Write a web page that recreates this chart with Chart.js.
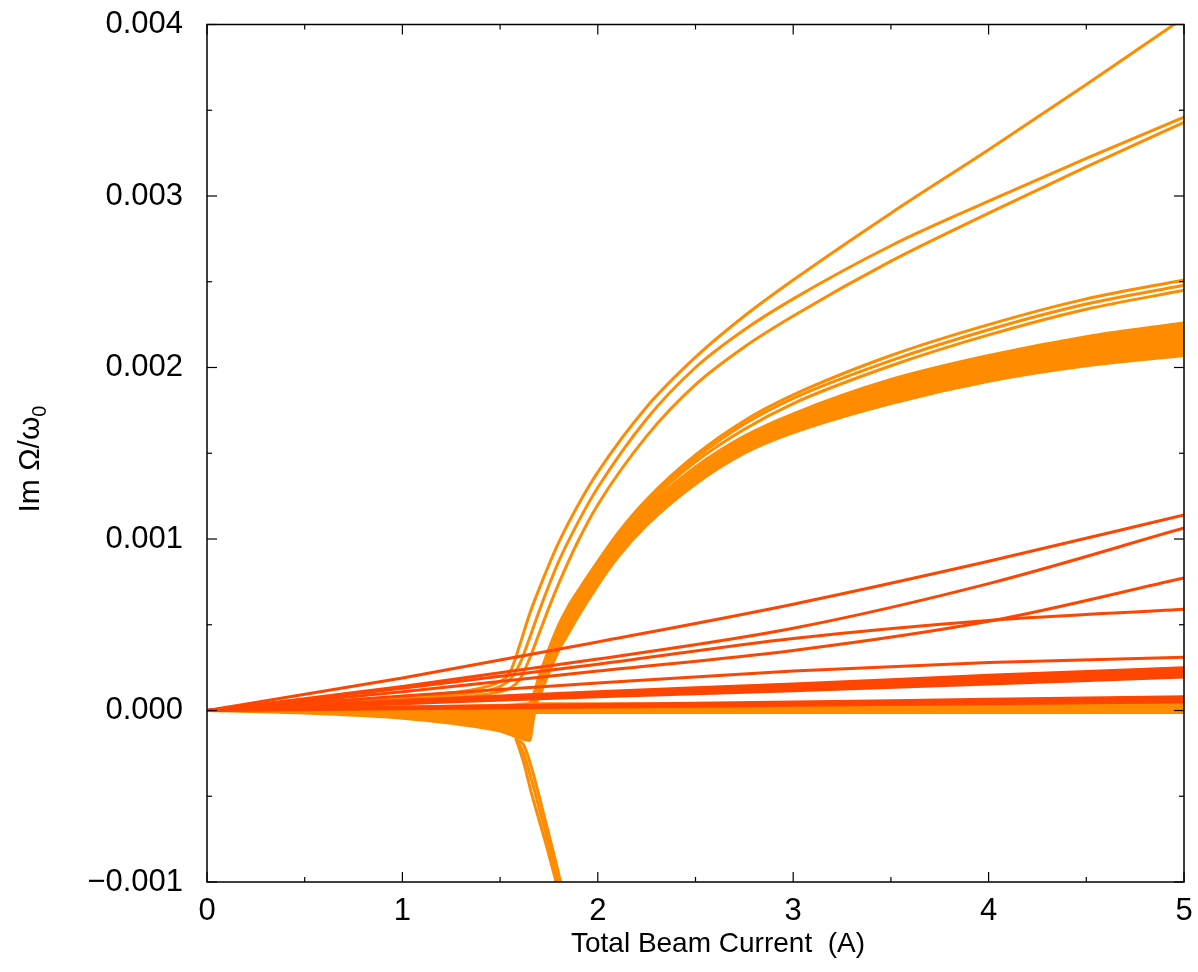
<!DOCTYPE html>
<html>
<head>
<meta charset="utf-8">
<script src="https://cdn.jsdelivr.net/npm/chart.js@4.4.1/dist/chart.umd.min.js"></script>
<style>
  html, body { margin: 0; padding: 0; background: #fff; }
  canvas { display: block; }
</style>
</head>
<body>
<canvas id="c" width="1198" height="972"></canvas>
<script>
// ---------- data (growth rate values in units of 1e-3) ----------
const UNIT = 1e-3;

const xTickValues = [0, 1, 2, 3, 4, 5];
const xTickLabels = ['0', '1', '2', '3', '4', '5'];
const xMinorTicks = [0.5, 1.5, 2.5, 3.5, 4.5];
const yTickValues = [-0.001, 0.000, 0.001, 0.002, 0.003, 0.004];
const yTickLabels = ['\u22120.001', '0.000', '0.001', '0.002', '0.003', '0.004'];
const yMinorTicks = [-0.0005, 0.0005, 0.0015, 0.0025, 0.0035];

// red (weakly growing) modes
const currentsRed = [0, 1, 2, 3, 4, 5];
const red1 = [0, 0.19, 0.40, 0.62, 0.87, 1.14];
const red2 = [0, 0.14, 0.30, 0.48, 0.74, 1.064];
const red3 = [0, 0.11, 0.23, 0.35, 0.52, 0.773];
const red4 = [0, 0.13, 0.27, 0.42, 0.525, 0.59];
const red5 = [0, 0.085, 0.16, 0.23, 0.28, 0.31];
const red6Top = [0, 0.06, 0.11, 0.155, 0.205, 0.25];
const red6Bot = [0, 0.04, 0.08, 0.115, 0.155, 0.195];
const red7Top = [0, 0.02, 0.035, 0.05, 0.065, 0.08];
const red7Bot = [0, 0.01, 0.02, 0.03, 0.04, 0.05];

// upper orange modes
const currentsUpper = [0, 0.5, 1.0, 1.4, 1.5, 1.55, 1.6, 1.65, 1.7, 1.75, 1.8, 1.9, 2.0, 2.25, 2.5, 2.75, 3.0, 3.5, 4.0, 4.5, 5.0];
const orangeA = [0, 0.04, 0.08, 0.13, 0.17, 0.22, 0.38, 0.56, 0.71, 0.85, 0.98, 1.20, 1.39, 1.77, 2.06, 2.30, 2.51, 2.90, 3.27, 3.65, 4.04];
const orangeB = [0, 0.035, 0.07, 0.11, 0.14, 0.18, 0.27, 0.42, 0.58, 0.73, 0.87, 1.10, 1.30, 1.70, 2.00, 2.22, 2.40, 2.71, 2.97, 3.22, 3.46];
const orangeC = [0, 0.03, 0.055, 0.09, 0.11, 0.13, 0.18, 0.30, 0.45, 0.60, 0.74, 0.99, 1.20, 1.60, 1.90, 2.12, 2.30, 2.62, 2.90, 3.17, 3.43];

// middle orange band
const currentsBand = [0, 1.0, 1.5, 1.62, 1.66, 1.7, 1.75, 1.8, 1.85, 1.9, 2.0, 2.1, 2.25, 2.5, 2.75, 3.0, 3.5, 4.0, 4.5, 5.0];
const bandT1 = [0, 0.01, 0.02, 0.02, 0.06, 0.20, 0.36, 0.50, 0.61, 0.70, 0.87, 1.03, 1.23, 1.49, 1.69, 1.84, 2.07, 2.25, 2.40, 2.51];
const bandT2 = [0, 0.01, 0.02, 0.02, 0.05, 0.19, 0.35, 0.49, 0.60, 0.69, 0.86, 1.02, 1.22, 1.47, 1.67, 1.82, 2.04, 2.22, 2.37, 2.48];
const bandT3 = [0, 0.01, 0.015, 0.015, 0.04, 0.18, 0.34, 0.48, 0.59, 0.68, 0.85, 1.01, 1.20, 1.45, 1.64, 1.79, 2.01, 2.19, 2.34, 2.45];
const bandTop = [0, 0.005, 0.01, 0.01, 0.03, 0.16, 0.32, 0.46, 0.57, 0.66, 0.83, 0.99, 1.18, 1.42, 1.60, 1.73, 1.93, 2.07, 2.18, 2.26];
const bandBot = [0, 0, 0, 0, 0, 0.08, 0.22, 0.35, 0.45, 0.55, 0.73, 0.89, 1.08, 1.32, 1.50, 1.62, 1.79, 1.92, 2.01, 2.07];

// near-zero orange fan
const currentsZero = [0, 0.5, 1.0, 1.25, 1.5, 1.6, 1.65, 1.68, 1.75, 2.0, 3.0, 4.0, 5.0];
const zeroTop = [0, 0.01, 0.02, 0.025, 0.03, 0.035, 0.04, 0.04, 0.04, 0.04, 0.04, 0.04, 0.04];
const zeroBot = [0, -0.015, -0.045, -0.075, -0.12, -0.16, -0.175, -0.012, -0.012, -0.012, -0.012, -0.012, -0.012];

// damped modes dropping below
const currentsDrop = [1.58, 1.62, 1.66, 1.70, 1.74, 1.78, 1.82];
const drop1 = [-0.16, -0.30, -0.48, -0.64, -0.80, -0.97, -1.15];
const drop2 = [-0.16, -0.25, -0.40, -0.57, -0.74, -0.92, -1.10];
const drop3 = [-0.17, -0.20, -0.33, -0.50, -0.68, -0.86, -1.05];

// ---------- build ----------
const ORANGE = '#FF8C00';
const RED = '#FF4500';
const pts = (xs, ys) => xs.map((x, i) => ({ x: x, y: ys[i] * UNIT }));
const line = (xs, ys, color, extra) => Object.assign({
  data: pts(xs, ys), borderColor: color, backgroundColor: color, borderWidth: 3,
  pointRadius: 0, fill: false, cubicInterpolationMode: 'monotone'
}, extra || {});

const datasets = [
  line(currentsRed, red1, RED),
  line(currentsRed, red2, RED),
  line(currentsRed, red3, RED),
  line(currentsRed, red4, RED),
  line(currentsRed, red5, RED),
  line(currentsRed, red6Top, RED),
  line(currentsRed, red6Bot, RED, { fill: '-1' }),
  line(currentsRed, red7Top, RED),
  line(currentsRed, red7Bot, RED, { fill: '-1' }),
  line(currentsUpper, orangeA, ORANGE),
  line(currentsUpper, orangeB, ORANGE),
  line(currentsUpper, orangeC, ORANGE),
  line(currentsBand, bandT1, ORANGE),
  line(currentsBand, bandT2, ORANGE),
  line(currentsBand, bandT3, ORANGE),
  line(currentsBand, bandTop, ORANGE),
  line(currentsBand, bandBot, ORANGE, { fill: '-1' }),
  line(currentsZero, zeroTop, ORANGE),
  line(currentsZero, zeroBot, ORANGE, { fill: '-1' }),
  line(currentsDrop, drop1, ORANGE),
  line(currentsDrop, drop2, ORANGE),
  line(currentsDrop, drop3, ORANGE)
];

const FONT = '"Liberation Sans", Arial, Helvetica, sans-serif';

const frameTicks = {
  id: 'frameTicks',
  afterDraw(chart) {
    const { ctx, chartArea, scales } = chart;
    const { left, right, top, bottom } = chartArea;
    const xs = scales.x, ys = scales.y;
    ctx.save();
    ctx.strokeStyle = '#000';
    ctx.lineWidth = 1.5;
    ctx.strokeRect(left, top, right - left, bottom - top);
    ctx.lineWidth = 1.2;
    const seg = (x1, y1, x2, y2) => { ctx.beginPath(); ctx.moveTo(x1, y1); ctx.lineTo(x2, y2); ctx.stroke(); };
    xTickValues.forEach(v => { const p = xs.getPixelForValue(v); seg(p, bottom, p, bottom - 10); seg(p, top, p, top + 10); });
    xMinorTicks.forEach(v => { const p = xs.getPixelForValue(v); seg(p, bottom, p, bottom - 5); seg(p, top, p, top + 5); });
    yTickValues.forEach(v => { const p = ys.getPixelForValue(v); seg(left, p, left + 10, p); seg(right, p, right - 10, p); });
    yMinorTicks.forEach(v => { const p = ys.getPixelForValue(v); seg(left, p, left + 5, p); seg(right, p, right - 5, p); });

    // x title
    ctx.fillStyle = '#000';
    ctx.font = '28px ' + FONT;
    ctx.textAlign = 'center';
    ctx.textBaseline = 'middle';
    ctx.fillText('Total Beam Current  (A)', 718, 944);

    // y title with subscript
    ctx.translate(31, 459);
    ctx.rotate(-Math.PI / 2);
    const main = 'Im \u03A9/\u03C9', sub = '0';
    ctx.font = '30px ' + FONT;
    const w1 = ctx.measureText(main).width;
    ctx.font = '20px ' + FONT;
    const w2 = ctx.measureText(sub).width;
    const x0 = -(w1 + w2) / 2;
    ctx.textAlign = 'left';
    ctx.font = '30px ' + FONT;
    ctx.fillText(main, x0, 0);
    ctx.font = '20px ' + FONT;
    ctx.fillText(sub, x0 + w1, 9);
    ctx.restore();
  }
};

new Chart(document.getElementById('c'), {
  type: 'line',
  data: { datasets: datasets },
  plugins: [frameTicks],
  options: {
    responsive: false,
    animation: false,
    devicePixelRatio: 1,
    layout: { padding: { top: 24.5, right: 14, left: 0, bottom: 0 } },
    plugins: { legend: { display: false }, tooltip: { enabled: false } },
    scales: {
      x: {
        type: 'linear', min: 0, max: 5,
        grid: { display: false, drawTicks: false },
        border: { display: false },
        afterBuildTicks: s => { s.ticks = xTickValues.map(v => ({ value: v })); },
        ticks: {
          color: '#000', padding: 11, maxRotation: 0,
          font: { family: FONT, size: 31 },
          callback: (v) => { const i = xTickValues.indexOf(v); return i >= 0 ? xTickLabels[i] : ''; }
        },
        afterFit: s => { s.height = 90; s.paddingLeft = 0; s.paddingRight = 0; }
      },
      y: {
        type: 'linear', min: -0.001, max: 0.004,
        grid: { display: false, drawTicks: false },
        border: { display: false },
        afterBuildTicks: s => { s.ticks = yTickValues.map(v => ({ value: v })); },
        ticks: {
          color: '#000', padding: 24,
          font: { family: FONT, size: 31 },
          callback: (v) => {
            const i = yTickValues.findIndex(t => Math.abs(t - v) < 1e-9);
            return i >= 0 ? yTickLabels[i] : '';
          }
        },
        afterFit: s => { s.width = 207; s.paddingTop = 0; s.paddingBottom = 0; }
      }
    }
  }
});
</script>
</body>
</html>
